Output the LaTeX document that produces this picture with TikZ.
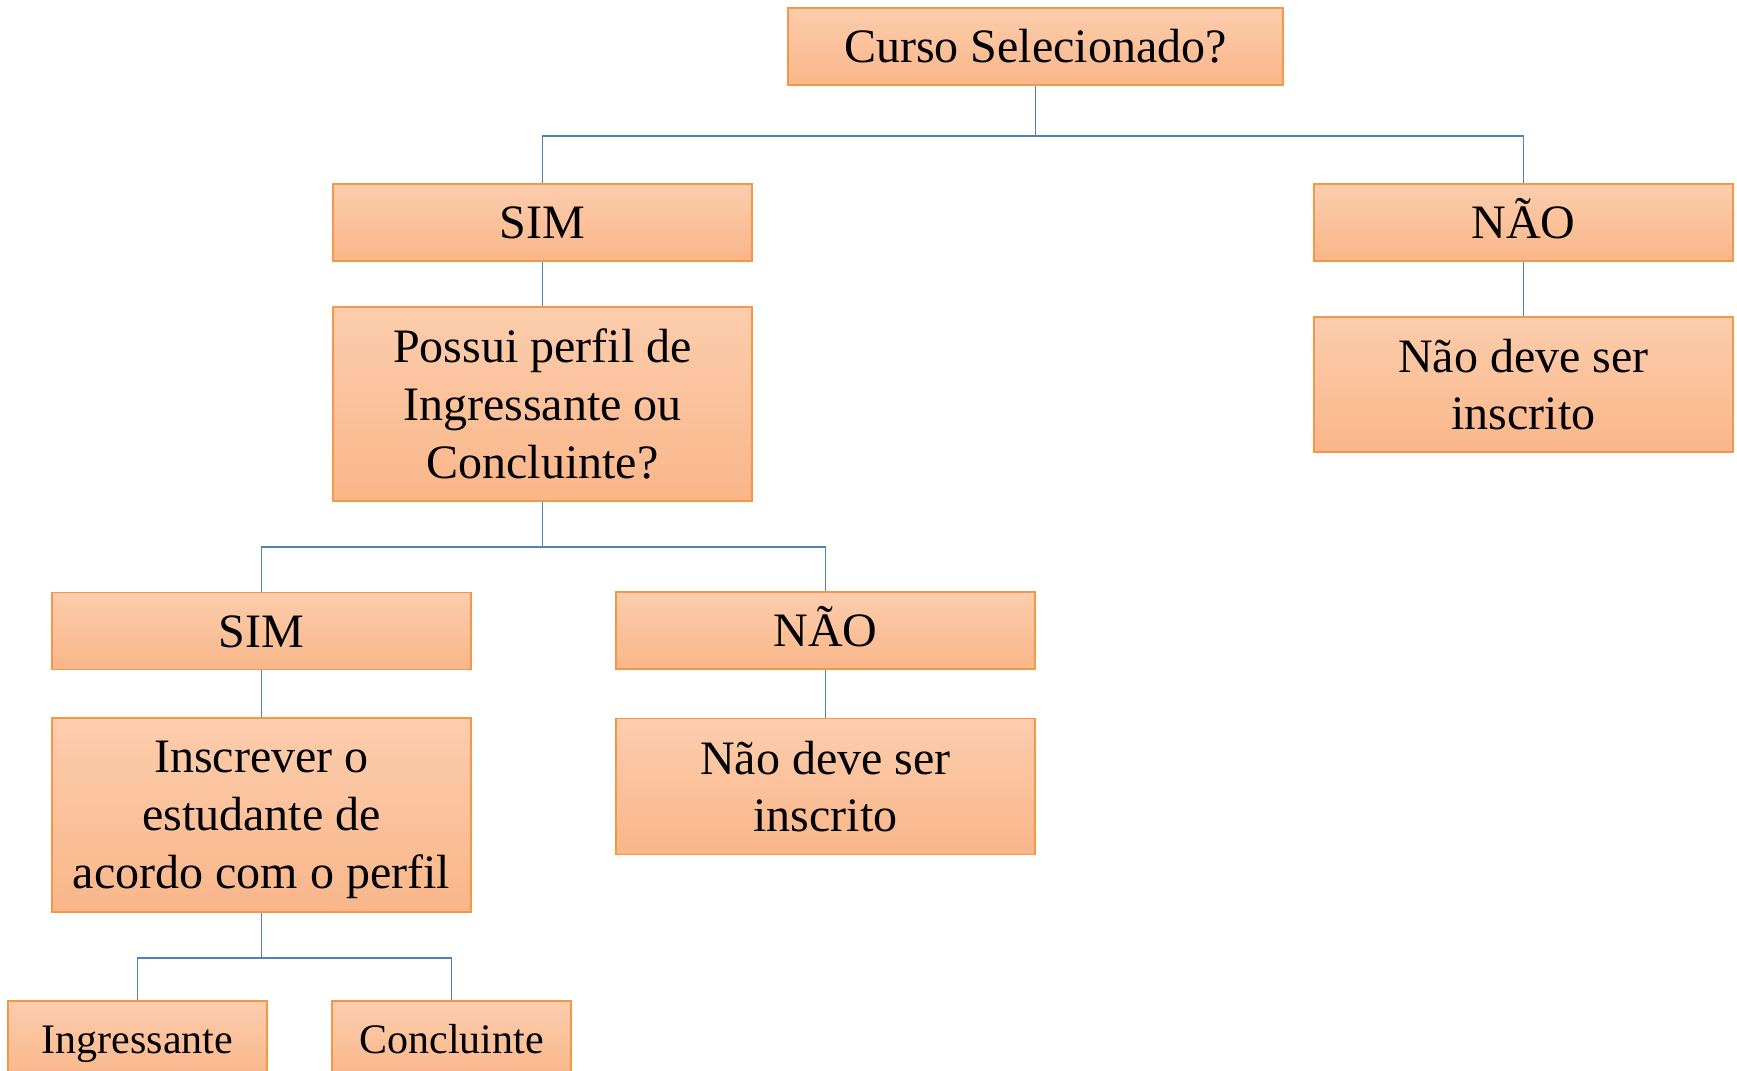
\documentclass[tikz,border=0pt]{standalone}
\usepackage{fontspec}
\setmainfont{Liberation Serif}
\usetikzlibrary{positioning}
\definecolor{bordo}{HTML}{F79646}
\definecolor{topo}{HTML}{FCCDAD}
\definecolor{fundo}{HTML}{F9B689}
\definecolor{azul}{HTML}{4F81BD}
\tikzset{bx/.append style={draw=bordo, line width=0.75pt, top color=topo, bottom color=fundo, minimum width=209.5pt, minimum height=38.5pt, inner sep=0pt, align=center, font=\fontsize{24}{28.8}\selectfont}}
\tikzset{um/.append style={text height=16.4pt, text depth=0pt}}
\tikzset{sm/.append style={font=\fontsize{21}{25}\selectfont, text height=14.4pt, text depth=0pt}}
\tikzset{ln/.append style={draw=azul, line width=0.75pt}}

\begin{document}
\begin{tikzpicture}[x=0.5pt,y=-0.5pt]
                \useasboundingbox (0,0) rectangle (1737,1071);
                \clip (0,0) rectangle (1737,1071);
                % caixas
                \node[bx, um, minimum width=247.5pt] (curso) at (1035.5,46.5) {Curso Selecionado?};
                \node[bx, um] (sim) at (542.5,222.5) {SIM};
                \node[bx, um] (nao) at (1523.5,222.5) {NÃO};
                \node[bx, minimum height=97pt] (perfil) at (542.5,404) {Possui perfil de\\Ingressante ou\\Concluinte?};
                \node[bx, minimum height=67.5pt] (naoinsc) at (1523.5,384.5) {Não deve ser\\inscrito};
                \node[bx, um] (simb) at (261.5,631) {SIM};
                \node[bx, um] (naob) at (825.5,630.5) {NÃO};
                \node[bx, minimum height=97pt] (inscr) at (261.5,815) {Inscrever o\\estudante de\\acordo com o \smash{perfil}};
                \node[bx, minimum height=68pt] (naoinscb) at (825.5,786.5) {Não deve ser\\inscrito};
                \node[bx, sm, minimum width=129.5pt] (ingr) at (137.5,1039.5) {Ingressante};
                \node[bx, sm, minimum width=119.5pt] (concl) at (451.5,1039.5) {Concluinte};
                % ligacoes
                \draw[ln] (curso.south) -- ++(0,50) -| (sim.north);
                \draw[ln] (curso.south) -- ++(0,50) -| (nao.north);
                \path (sim) edge[ln] (perfil);
                \path (nao) edge[ln] (naoinsc);
                \draw[ln] (perfil.south) -- ++(0,45) -| (simb.north);
                \draw[ln] (perfil.south) -- ++(0,45) -| (naob.north);
                \path (simb) edge[ln] (inscr);
                \path (naob) edge[ln] (naoinscb);
                \draw[ln] (inscr.south) -- ++(0,45) -| (ingr.north);
                \draw[ln] (inscr.south) -- ++(0,45) -| (concl.north);
            \end{tikzpicture}
\end{document}
